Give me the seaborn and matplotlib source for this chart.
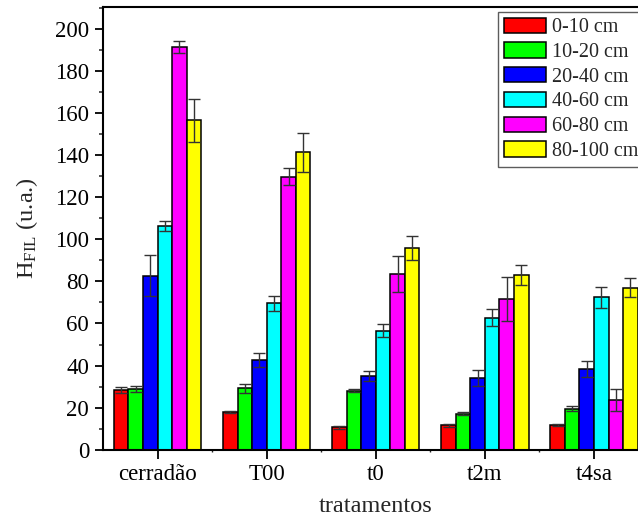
import numpy as np
import pandas as pd
import matplotlib
matplotlib.use("Agg")
import matplotlib.pyplot as plt
import seaborn as sns

categories = ["cerradão", "T00", "t0", "t2m", "t4sa"]
depths = ["0-10 cm", "10-20 cm", "20-40 cm", "40-60 cm", "60-80 cm", "80-100 cm"]
colors = ["#FF0000", "#00FF00", "#0000FF", "#00FFFF", "#FF00FF", "#FFFF00"]

v_0_10 = [28.4, 17.8, 10.6, 11.6, 11.7]
v_10_20 = [28.9, 29.2, 28.1, 17.0, 19.4]
v_20_40 = [82.7, 42.7, 35.1, 34.1, 38.4]
v_40_60 = [106.3, 69.7, 56.5, 62.7, 72.4]
v_60_80 = [191.3, 129.8, 83.5, 71.7, 23.5]
v_80_100 = [156.5, 141.3, 95.9, 83.2, 77.1]

e_0_10 = [1.4, 0.5, 0.9, 0.6, 0.5]
e_10_20 = [1.6, 2.1, 0.7, 0.7, 1.2]
e_20_40 = [9.7, 3.5, 2.5, 4.0, 4.0]
e_40_60 = [2.3, 3.6, 3.1, 4.1, 4.9]
e_60_80 = [2.8, 4.0, 8.4, 10.3, 5.2]
e_80_100 = [10.0, 9.2, 5.5, 4.7, 4.3]

values = [v_0_10, v_10_20, v_20_40, v_40_60, v_60_80, v_80_100]
errors = [e_0_10, e_10_20, e_20_40, e_40_60, e_60_80, e_80_100]

rows = []
for d, vals, errs in zip(depths, values, errors):
    for c, v, e in zip(categories, vals, errs):
        rows.append({"tratamento": c, "prof": d, "H": v, "err": e})
df = pd.DataFrame(rows)

sns.set_style("ticks")
plt.rcParams["font.family"] = ["Liberation Serif", "DejaVu Serif"]
plt.rcParams["mathtext.fontset"] = "custom"
plt.rcParams["mathtext.rm"] = "Liberation Serif"
plt.rcParams["mathtext.it"] = "Liberation Serif:italic"

fig = plt.figure(figsize=(6.38, 5.17), dpi=100)
ax = fig.add_axes([103 / 638, (517 - 449.7) / 517, (648.6 - 103) / 638, (449.7 - 7.3) / 517])

sns.barplot(data=df, x="tratamento", y="H", hue="prof", order=categories,
            hue_order=depths, palette=colors, errorbar=None, width=0.8,
            edgecolor="black", linewidth=1.1, saturation=1, legend=False, ax=ax)

for cont, d in zip(ax.containers, depths):
    sub = df[df["prof"] == d].set_index("tratamento").loc[categories]
    xs = [b.get_x() + b.get_width() / 2 for b in cont]
    hs = [b.get_height() for b in cont]
    ax.errorbar(xs, hs, yerr=sub["err"].values, fmt="none", ecolor="#333333",
                elinewidth=1.0, capsize=4, capthick=1.0, zorder=5)

ax.set_xlim(-0.5, 4.5)
ax.set_ylim(0, 210.3)
ax.set_yticks(np.arange(0, 201, 20))
ax.set_yticks(np.arange(10, 211, 20), minor=True)
ax.set_xticks(np.arange(0.5, 4.0, 1.0), minor=True)

ax.tick_params(axis="both", which="major", direction="out", length=6, width=1.3,
               labelsize=16.5, color="black", labelcolor="black", pad=4)
ax.tick_params(axis="y", which="minor", direction="out", length=3, width=1.1)
ax.tick_params(axis="x", which="minor", direction="out", length=1.5, width=1.0)
ax.tick_params(axis="x", which="major", length=6.5, pad=4)

for s in ax.spines.values():
    s.set_visible(True)
    s.set_linewidth(1.5)
    s.set_color("black")

ax.set_xlabel("tratamentos", fontsize=17.5, labelpad=8)
ax.set_ylabel(r"H$_{\mathrm{FIL}}$ (u.a.)", fontsize=17.5, labelpad=11)

leg = ax.legend(ax.containers, depths, loc="upper right", fontsize=14.5,
                frameon=True, fancybox=False, shadow=False, borderaxespad=0.23,
                handlelength=2.1, handleheight=0.8, handletextpad=0.28,
                labelspacing=0.25, borderpad=0.28)
leg.get_frame().set_edgecolor("#333333")
leg.get_frame().set_linewidth(1.0)

fig.savefig("out.png", dpi=100)
